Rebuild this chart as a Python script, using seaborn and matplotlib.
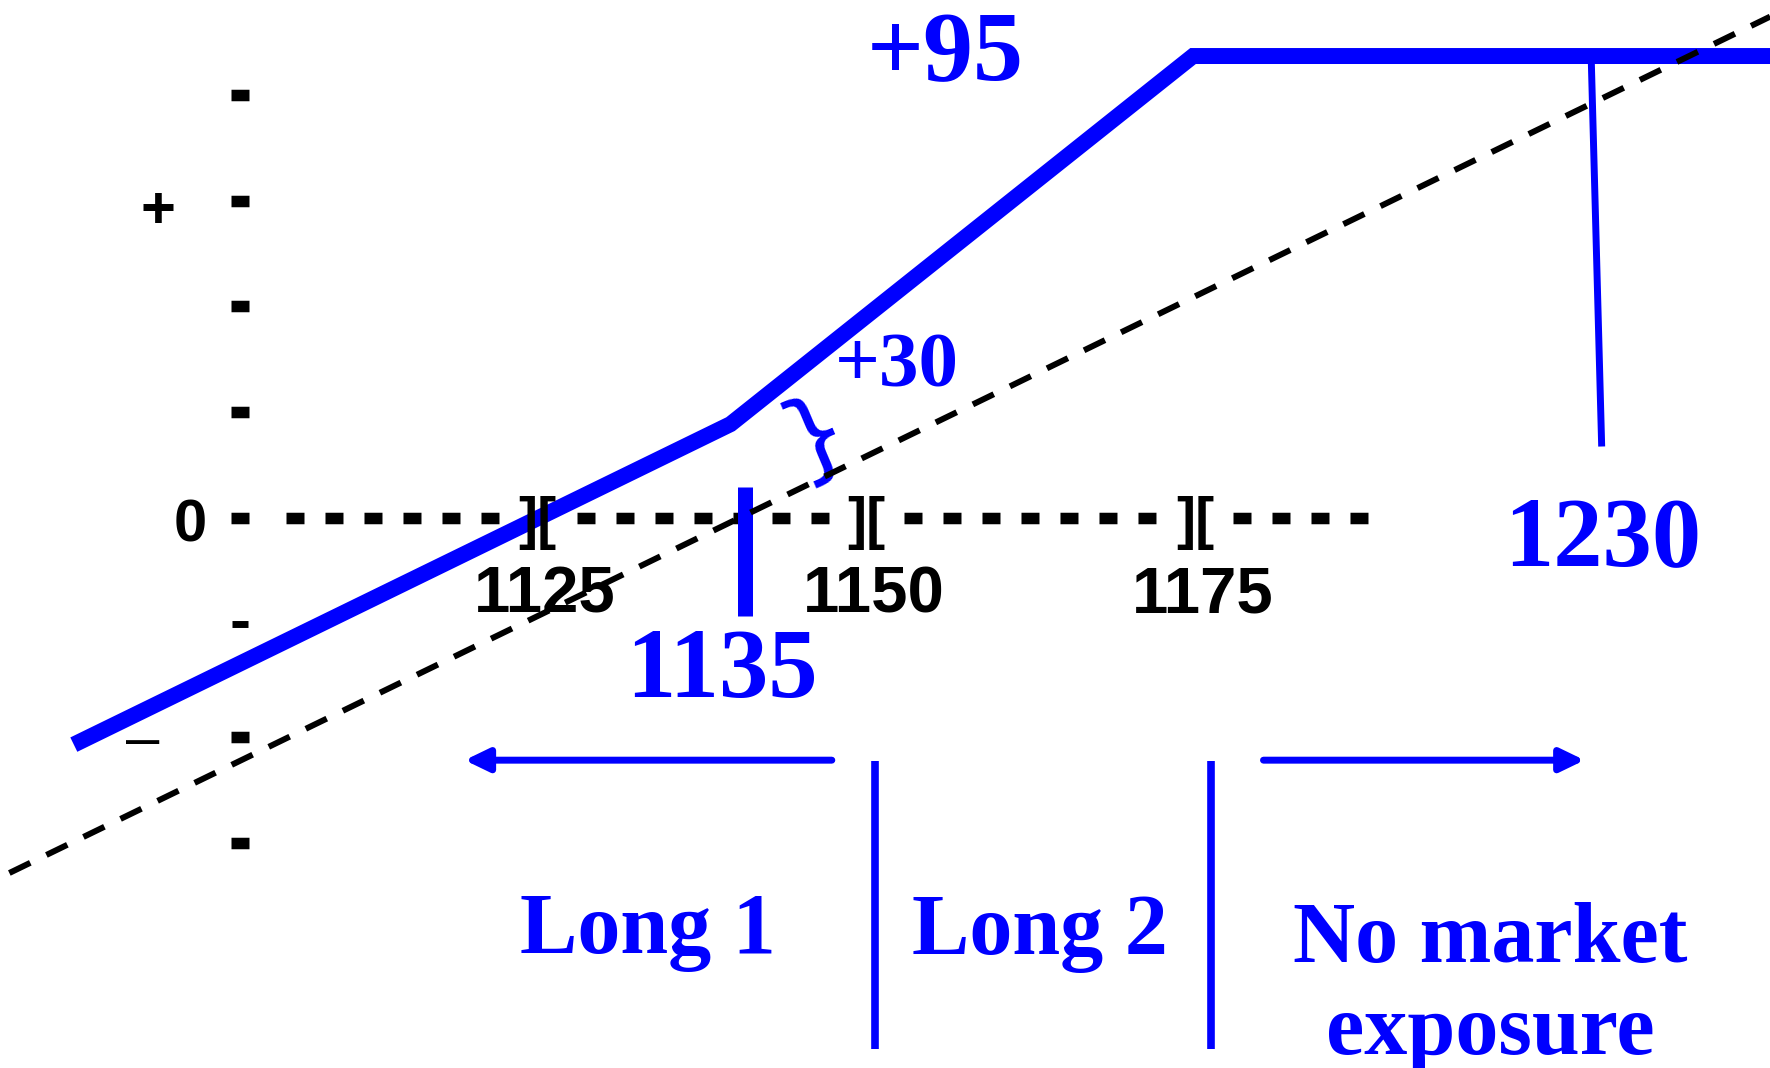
import seaborn as sns
import matplotlib.pyplot as plt

# price axis: bracket marks on the zero line and their labels
tick_prices = [1125, 1150, 1175]
tick_labels = ['1125', '1150', '1175']

# P&L axis tick marks
ytick_major = [87.0, 65.2, 43.6, 21.7, 0, -45.0, -66.8]
ytick_minor = [-21.8]

# zero line, dotted pieces between the brackets
zero_start = [1105.9, 1128.0, 1152.9, 1177.9]
zero_end = [1122.1, 1147.2, 1172.1, 1188.2]

# hedged position (blue)
payoff_x = [1089.8, 1139.7, 1174.85, 1220.0]
payoff_y = [-46.6, 19.3, 95.0, 95.0]

# long futures only (dashed)
futures_x = [1084.9, 1218.7]
futures_y = [-73.0, 103.1]

# strike markers
put_x = [1140.8, 1140.8]
put_y = [6.4, -20.2]
call_x = [1205.1, 1205.9]
call_y = [95.0, 14.7]

# region arrows and separators
arrow_y = -49.8
left_arrow = [1147.4, 1119.5]
right_arrow = [1180.2, 1204.6]
sep_x = [1150.7, 1176.2]
sep_y = [-50.0, -109.2]

BLUE = '#0000FF'

sns.set_theme(style='white')
plt.rcParams['font.family'] = ['Liberation Sans', 'DejaVu Sans']

fig = plt.figure(figsize=(17.7, 10.68), dpi=100)
ax = fig.add_axes([0, 0, 1, 1])
ax.set_xlim(1084.19, 1218.69)
ax.set_ylim(-113.1, 106.52)

# axis: only the square tick marks on the left
for side in ['top', 'right', 'bottom', 'left']:
    ax.spines[side].set_color('none')
ax.spines['left'].set_position(('data', 1102.43))
ax.set_xticks([])
ax.set_yticks(ytick_major)
ax.set_yticks(ytick_minor, minor=True)
ax.tick_params(axis='y', which='major', left=True, direction='inout',
               length=12.96, width=8.28, color='black', labelleft=False)
ax.tick_params(axis='y', which='minor', left=True, direction='inout',
               length=12.2, width=5.0, color='black', labelleft=False)

# zero line
for x0, x1 in zip(zero_start, zero_end):
    ax.plot([x0, x1], [0, 0], color='black', lw=8.28,
            linestyle=(0, (1.565, 1.826)), dash_capstyle='butt', zorder=2)
for p in tick_prices:
    ax.text(p, -1.03, '][', ha='center', va='center', fontsize=41,
            fontweight='bold', color='black', zorder=4)
for p, lab in zip(tick_prices, tick_labels):
    ax.text(p + 0.6, -19.33, lab, ha='center', va='baseline', fontsize=47,
            fontweight='bold', color='black')

ax.text(1098.63, -4.73, '0', ha='center', va='baseline', fontsize=43,
        fontweight='bold', color='black')
ax.text(1096.2, 62.9, '+', ha='center', va='center', fontsize=43,
        fontweight='bold', color='black')
ax.text(1095.0, -45.96, '\u2013', ha='center', va='center', fontsize=43,
        color='black')

# payoff lines
sns.lineplot(x=payoff_x, y=payoff_y, ax=ax, color=BLUE, lw=11.5,
             solid_capstyle='butt', solid_joinstyle='miter', zorder=3)
sns.lineplot(x=futures_x, y=futures_y, ax=ax, color='black', lw=4.3,
             linestyle=(0, (3.9, 3.0)), zorder=5)

ax.plot(put_x, put_y, color=BLUE, lw=10.8, solid_capstyle='butt', zorder=3)
ax.plot(call_x, call_y, color=BLUE, lw=5, solid_capstyle='butt', zorder=2)

# region arrows
arrow_props = dict(arrowstyle='-|>,head_length=1.2,head_width=0.58',
                   color=BLUE, lw=5, shrinkA=0, shrinkB=0)
ax.annotate('', xy=(left_arrow[1], arrow_y), xytext=(left_arrow[0], arrow_y),
            arrowprops=arrow_props)
ax.annotate('', xy=(right_arrow[1], arrow_y), xytext=(right_arrow[0], arrow_y),
            arrowprops=arrow_props)
for sx in sep_x:
    ax.plot([sx, sx], sep_y, color=BLUE, lw=5.5, solid_capstyle='butt')

serif = dict(family='Liberation Serif', fontweight='bold', color=BLUE)
ax.text(1156.0, 90.07, '+95', ha='center', va='baseline', fontsize=72, **serif)
ax.text(1152.36, 27.14, '+30', ha='center', va='baseline', fontsize=57, **serif)
ax.text(1139.06, -36.8, '1135', ha='center', va='baseline', fontsize=71, **serif)
ax.text(1206.0, -9.66, '1230', ha='center', va='baseline', fontsize=71, **serif)
ax.text(1133.43, -89.45, 'Long 1', ha='center', va='baseline', fontsize=62, **serif)
ax.text(1163.22, -89.76, 'Long 2', ha='center', va='baseline', fontsize=62, **serif)
ax.text(1197.42, -91.3, 'No market', ha='center', va='baseline', fontsize=62, **serif)
ax.text(1197.42, -110.2, 'exposure', ha='center', va='baseline', fontsize=62, **serif)

# brace marking the +30 gap
ax.text(1146.2, 17.0, '}', ha='center', va='center', rotation=23,
        rotation_mode='anchor', fontsize=72, family='DejaVu Sans', color=BLUE)

fig.savefig('out.png', dpi=100, facecolor='white')
